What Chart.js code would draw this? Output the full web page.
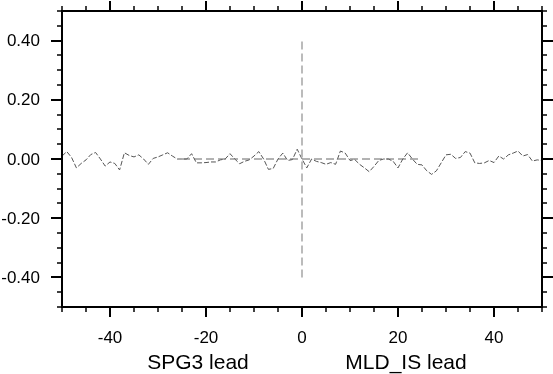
<!DOCTYPE html>
<html>
<head>
<meta charset="utf-8">
<script src="https://cdn.jsdelivr.net/npm/chart.js@4"></script>
<style>
  body { margin: 0; background: #fff; }
  #wrap { width: 553px; height: 374px; position: relative; }
</style>
</head>
<body>
<div id="wrap"><canvas id="chart"></canvas></div>
<script>
// lag (years) and correlation values
const lags = [];
for (let l = -50; l <= 50; l++) lags.push(l);
const corr = [
  0.010, 0.025, 0.005, -0.030, -0.015, -0.003, 0.015, 0.022, 0.000, -0.024,
  -0.010, -0.015, -0.037, 0.021, 0.012, 0.007, 0.014, 0.000, -0.018, 0.002,
  0.007, 0.014, 0.021, 0.010, 0.000, 0.000, 0.000, 0.018, -0.013, -0.013,
  -0.012, -0.010, -0.010, -0.003, 0.000, 0.018, 0.000, -0.016, -0.008, -0.003,
  0.010, 0.025, 0.000, -0.035, -0.032, 0.000, 0.020, -0.005, -0.002, 0.033,
  0.000, -0.030, 0.000, -0.008, -0.012, -0.018, -0.012, -0.018, 0.027, 0.020,
  -0.005, -0.002, -0.018, -0.030, -0.043, -0.025, -0.005, 0.000, 0.000, -0.008,
  -0.030, 0.000, 0.021, 0.000, -0.018, -0.020, -0.040, -0.052, -0.040, -0.013,
  0.014, 0.016, 0.002, 0.005, 0.025, 0.020, -0.013, -0.015, -0.013, -0.005,
  -0.012, 0.010, 0.000, 0.014, 0.020, 0.027, 0.010, 0.015, -0.007, -0.003,
  -0.005
];

// reference lines
const vLineX = [0, 0];
const vLineY = [-0.4, 0.4];
const zeroLineX = [-25, 25];
const zeroLineY = [0, 0];

const xTicks = [-40, -20, 0, 20, 40];
const yTicks = [-0.4, -0.2, 0, 0.2, 0.4];
const yTickLabels = ["-0.40", "-0.20", "0.00", "0.20", "0.40"];
const leftTitle = "SPG3 lead";
const rightTitle = "MLD_IS lead";

const toPts = (xs, ys) => xs.map((x, i) => ({ x: x, y: ys[i] }));

// frame, mirrored ticks, labels and titles
const framePlugin = {
  id: "frame",
  afterDraw(chart) {
    const ctx = chart.ctx;
    const a = chart.chartArea;
    const xs = chart.scales.x, ys = chart.scales.y;
    ctx.save();
    ctx.strokeStyle = "#000";

    const tick = (x1, y1, x2, y2, w) => {
      ctx.lineWidth = w;
      ctx.beginPath();
      ctx.moveTo(x1, y1);
      ctx.lineTo(x2, y2);
      ctx.stroke();
    };

    // x ticks every 5, major every 20
    for (let v = -50; v <= 50; v += 5) {
      const px = Math.round(xs.getPixelForValue(v));
      const major = v % 20 === 0;
      const len = major ? 10 : 5;
      tick(px, a.bottom, px, a.bottom + len, major ? 2 : 1.5);
      tick(px, a.top, px, a.top - len, major ? 2 : 1.5);
    }
    // y ticks every 0.05, major every 0.2
    for (let k = -10; k <= 10; k++) {
      const py = Math.round(ys.getPixelForValue(k * 0.05));
      const major = k % 4 === 0;
      const len = major ? 11 : 5;
      tick(a.left, py, a.left - len, py, major ? 2 : 1.5);
      tick(a.right, py, a.right + len, py, major ? 2 : 1.5);
    }

    ctx.lineWidth = 2;
    ctx.strokeRect(a.left, a.top, a.right - a.left, a.bottom - a.top);

    ctx.fillStyle = "#000";
    ctx.font = "17px 'Liberation Sans', Arial, sans-serif";
    ctx.textAlign = "right";
    ctx.textBaseline = "middle";
    yTicks.forEach((v, i) => {
      ctx.fillText(yTickLabels[i], 40, ys.getPixelForValue(v) + 1);
    });
    ctx.textAlign = "center";
    xTicks.forEach((v) => {
      ctx.fillText(String(v), xs.getPixelForValue(v), 338);
    });

    ctx.font = "21px 'Liberation Sans', Arial, sans-serif";
    ctx.fillText(leftTitle, 198, 363);
    ctx.fillText(rightTitle, 406, 363);
    ctx.restore();
  }
};

new Chart(document.getElementById("chart"), {
  type: "scatter",
  data: {
    datasets: [
      {
        label: "zero",
        data: toPts(zeroLineX, zeroLineY),
        showLine: true,
        borderColor: "#666",
        borderWidth: 1,
        borderDash: [8, 4],
        pointRadius: 0
      },
      {
        label: "lag 0",
        data: toPts(vLineX, vLineY),
        showLine: true,
        borderColor: "#bbbbbb",
        borderWidth: 2,
        borderDash: [8, 4],
        pointRadius: 0
      },
      {
        label: "correlation",
        data: toPts(lags, corr),
        showLine: true,
        borderColor: "#555",
        borderWidth: 1,
        borderDash: [5, 2],
        pointRadius: 0,
        tension: 0
      }
    ]
  },
  options: {
    responsive: true,
    maintainAspectRatio: false,
    animation: false,
    layout: { padding: { left: 62, right: 11, top: 11, bottom: 67 } },
    plugins: {
      legend: { display: false },
      tooltip: { enabled: false }
    },
    scales: {
      x: { type: "linear", min: -50, max: 50, display: false },
      y: { type: "linear", min: -0.5, max: 0.5, display: false }
    }
  },
  plugins: [framePlugin]
});
</script>
</body>
</html>
